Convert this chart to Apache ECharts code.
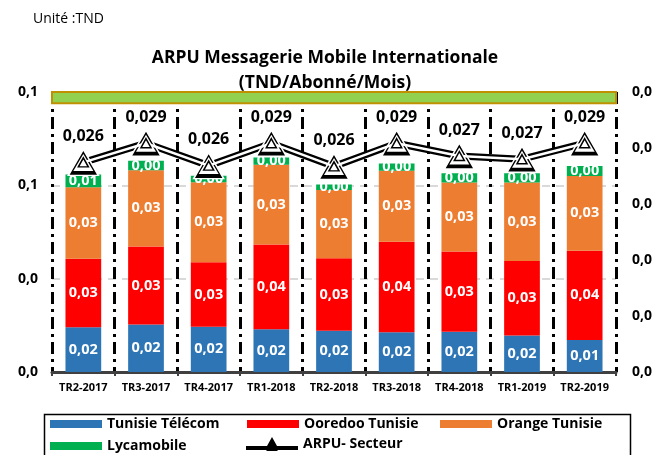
<!DOCTYPE html>
<html>
<head>
<meta charset="utf-8">
<script src="https://cdn.jsdelivr.net/npm/echarts@6/dist/echarts.min.js"></script>
<style>
  html, body { margin: 0; padding: 0; background: #fff; }
  #chart { width: 659px; height: 455px; }
</style>
</head>
<body>
<div id="chart"></div>
<script>
const categories = ['TR2-2017', 'TR3-2017', 'TR4-2017', 'TR1-2018', 'TR2-2018', 'TR3-2018', 'TR4-2018', 'TR1-2019', 'TR2-2019'];
const tunisieTelecom = [0.0192, 0.0204, 0.0194, 0.0183, 0.0177, 0.0170, 0.0173, 0.0156, 0.0137];
const ooredoo = [0.0293, 0.0334, 0.0276, 0.0363, 0.0310, 0.0388, 0.0343, 0.0320, 0.0383];
const orange = [0.0307, 0.0327, 0.0343, 0.0342, 0.0293, 0.0304, 0.0296, 0.0336, 0.0320];
const lycamobile = [0.0054, 0.0040, 0.0028, 0.0031, 0.0024, 0.0032, 0.0040, 0.0040, 0.0043];
const arpuSecteur = [0.0262, 0.0286, 0.0258, 0.0286, 0.0257, 0.0286, 0.0270, 0.0266, 0.0286];
const topBand = [0.1152, 0.12];

const FONT = '"Open Sans", sans-serif';
const comma = (v, d) => v.toFixed(d).replace('.', ',');

const chart = echarts.init(document.getElementById('chart'));

const barLabel = {
  show: true, position: 'inside', color: '#fff', fontFamily: FONT,
  fontWeight: 'bold', fontSize: 14.5, formatter: p => comma(p.value, 2)
};

function bar(name, data, color, extra) {
  return Object.assign({
    name, type: 'bar', stack: 'ops', data, barWidth: '57%',
    itemStyle: { color }, label: barLabel, z: 2
  }, extra || {});
}

const legendBase = {
  orient: 'horizontal', itemWidth: 52, itemHeight: 8, itemGap: 10, padding: 0,
  textStyle: { color: '#000', fontFamily: FONT, fontWeight: 'bold', fontSize: 14 },
  selectedMode: false
};

// line + triangle glyph for the ARPU legend entry
const arpuIcon = 'path://M0,9 L21,9 L26,0 L31,9 L52,9 L52,13 L31,13 L32,14 L20,14 L21,13 L0,13 Z';

chart.setOption({
  animation: false,
  title: {
    text: 'ARPU Messagerie Mobile Internationale\n(TND/Abonné/Mois)',
    left: 320, top: 41, textAlign: 'center',
    textStyle: { fontFamily: FONT, fontWeight: 'bold', fontSize: 17.5, lineHeight: 25, color: '#000' }
  },
  graphic: [
    { type: 'text', left: 33, top: 12, style: { text: 'Unité :TND', fill: '#000', font: '14px ' + FONT } },
    { type: 'rect', left: 42, top: 412, shape: { width: 586, height: 60 }, style: { fill: 'none', stroke: '#000', lineWidth: 1.5 } }
  ],
  legend: [
    Object.assign({ left: 50, top: 417, data: [{ name: 'Tunisie Télécom', icon: 'rect' }] }, legendBase),
    Object.assign({ left: 247, top: 417, data: [{ name: 'Ooredoo Tunisie', icon: 'rect' }] }, legendBase),
    Object.assign({ left: 440, top: 417, data: [{ name: 'Orange Tunisie', icon: 'rect' }] }, legendBase),
    Object.assign({ left: 50, top: 439, data: [{ name: 'Lycamobile', icon: 'rect' }] }, legendBase),
    Object.assign({}, legendBase, {
      left: 246, top: 437, itemHeight: 14,
      data: [{ name: 'ARPU- Secteur', icon: arpuIcon, itemStyle: { color: '#000', borderWidth: 0 } }]
    })
  ],
  grid: { left: 52, right: 43, top: 92, bottom: 83 },
  xAxis: {
    type: 'category', data: categories, boundaryGap: true,
    axisLine: { lineStyle: { color: '#404040', width: 3 } },
    axisTick: { show: true, interval: 0, length: 4, lineStyle: { color: '#404040', width: 2 } },
    axisLabel: { interval: 0, color: '#000', fontFamily: FONT, fontWeight: 'bold', fontSize: 11, margin: 10 },
    splitLine: { show: true, interval: 0, lineStyle: { color: '#000', width: 3, type: [12, 5, 3, 5] } }
  },
  yAxis: [
    {
      type: 'value', min: 0, max: 0.12, interval: 0.04,
      axisLine: { show: false }, axisTick: { show: false },
      axisLabel: { color: '#000', fontFamily: FONT, fontWeight: 'bold', fontSize: 14, margin: 14, formatter: v => comma(v, 1) },
      splitLine: { show: true, lineStyle: { color: '#d9d9d9', width: 2, type: [8, 6] } }
    },
    {
      type: 'value', min: 0, max: 0.035, interval: 0.007,
      axisLine: { show: false }, axisTick: { show: false },
      axisLabel: { color: '#000', fontFamily: FONT, fontWeight: 'bold', fontSize: 14, margin: 16, formatter: v => comma(v, 1) },
      splitLine: { show: false }
    }
  ],
  series: [
    bar('Tunisie Télécom', tunisieTelecom, '#2e75b6', {
      markArea: {
        silent: true,
        itemStyle: { color: '#92d050', borderColor: '#bf9000', borderWidth: 2 },
        data: [[{ yAxis: topBand[0] }, { yAxis: topBand[1] }]]
      }
    }),
    bar('Ooredoo Tunisie', ooredoo, '#ff0000'),
    bar('Orange Tunisie', orange, '#ed7d31'),
    bar('Lycamobile', lycamobile, '#00b050'),
    {
      name: 'ARPU- Secteur', type: 'line', yAxisIndex: 1, data: arpuSecteur, z: 5,
      symbol: 'triangle', symbolSize: [30, 26],
      lineStyle: { color: '#000', width: 7 },
      itemStyle: { color: '#000', borderColor: '#fff', borderWidth: 1.5 },
      label: {
        show: true, position: 'top', distance: 4, color: '#000',
        fontFamily: FONT, fontWeight: 'bold', fontSize: 16, formatter: p => comma(p.value, 3)
      }
    },
    {
      type: 'line', yAxisIndex: 1, data: arpuSecteur, z: 6, silent: true,
      symbol: 'triangle', symbolSize: [20, 17],
      lineStyle: { color: '#fff', width: 2.5 },
      itemStyle: { color: '#fff', borderWidth: 0 }
    },
    {
      type: 'line', yAxisIndex: 1, data: arpuSecteur, z: 7, silent: true,
      symbol: 'triangle', symbolSize: [10, 9],
      lineStyle: { width: 0, opacity: 0 },
      itemStyle: { color: '#fff', borderColor: '#000', borderWidth: 1.5 }
    }
  ]
});
</script>
</body>
</html>
